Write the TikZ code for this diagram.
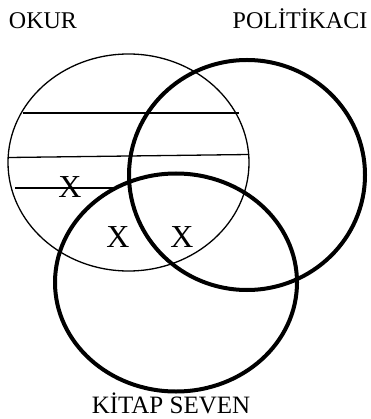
\documentclass[tikz,border=0pt]{standalone}
\usepackage{fontspec}
\setmainfont{Liberation Serif}
\begin{document}
\begin{tikzpicture}[x=1pt,y=-1pt,
  thinset/.style={line width=1.3pt},
  thickset/.style={line width=4pt},
  lbl/.style={font=\fontsize{24}{26}\selectfont, inner sep=0pt, anchor=base},
  xmark/.style={font=\fontsize{32}{34}\selectfont, inner sep=0pt, anchor=base}]
\useasboundingbox (0,0) rectangle (370,419);
% OKUR set
\draw[thinset] (128.5,162.5) ellipse [x radius=120.5, y radius=108.5];
% hatch lines
\coordinate (h1a) at (23,113); \coordinate (h1b) at (239,113);
\coordinate (h2a) at (9,157.5); \coordinate (h2b) at (249,154.5);
\coordinate (h3a) at (15,188); \coordinate (h3b) at (113,188);
\draw[thinset] (h1a) -- (h1b);
\draw[thinset] (h2a) -- (h2b);
\draw[thinset] (h3a) -- (h3b);
% POLITIKACI set
\draw[thickset] (247,175) ellipse [x radius=118, y radius=115];
% KITAP SEVEN set
\draw[thickset] (176,282.5) ellipse [x radius=121, y radius=109];
% labels
\node[lbl] (okur) at (43,28.5) {OKUR};
\node[lbl] (pol) at (300,28.5) {POLİTİKACI};
\node[lbl, font=\fontsize{25}{27}\selectfont] (kit) at (171,413.5) {KİTAP SEVEN};
\node[xmark] (x1) at (70,198) {X};
\node[xmark] (x2) at (118,247) {X};
\node[xmark] (x3) at (182,247) {X};
\end{tikzpicture}
\end{document}
